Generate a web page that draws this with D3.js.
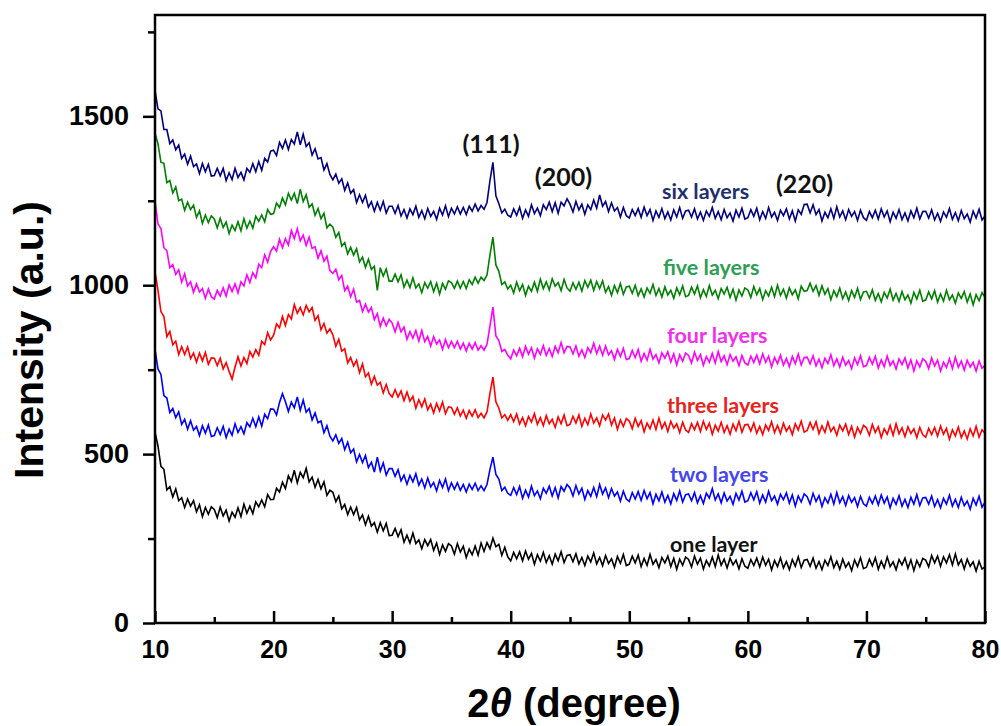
<!DOCTYPE html>
<html>
<head>
<meta charset="utf-8">
<script src="https://cdn.jsdelivr.net/npm/d3@7"></script>
<style>
  body { margin: 0; background: #fff; }
</style>
</head>
<body>
<div id="container"></div>
<script>
// 2theta grid, one reading every 0.25 degree from 10 to 80
let twoTheta = d3.range(281).map(i => 10 + i * 0.25);

// intensities (a.u.), one row = 5 degrees
let sixLayers = [
  1577,1522,1516,1461,1461,1419,1430,1401,1415,1375,1388,1358,1382,1351,1359,1331,1360,1336,1358,1323,
  1325,1346,1324,1346,1310,1333,1313,1346,1319,1334,1312,1346,1334,1360,1336,1366,1340,1376,1365,1397,
  1400,1384,1423,1405,1430,1402,1431,1418,1454,1416,1447,1411,1422,1385,1404,1374,1378,1341,1360,1328,
  1312,1329,1302,1315,1281,1303,1272,1283,1245,1268,1245,1266,1231,1247,1219,1245,1222,1248,1214,1234,
  1234,1213,1236,1205,1224,1199,1226,1209,1234,1201,1221,1197,1227,1204,1219,1195,1228,1208,1235,1203,
  1228,1211,1232,1211,1230,1209,1234,1219,1240,1220,1236,1225,1245,1310,1364,1265,1241,1214,1225,1207,
  1202,1226,1207,1231,1198,1223,1204,1238,1212,1228,1206,1238,1224,1246,1218,1244,1213,1246,1235,1256,
  1240,1217,1248,1223,1240,1210,1238,1224,1252,1228,1267,1234,1248,1218,1244,1220,1230,1202,1230,1206,
  1199,1224,1206,1227,1201,1231,1206,1224,1192,1220,1201,1227,1197,1217,1193,1223,1202,1230,1198,1220,
  1222,1202,1226,1196,1216,1192,1220,1204,1230,1198,1218,1194,1224,1200,1214,1190,1222,1202,1228,1196,
  1200,1224,1204,1228,1194,1218,1198,1230,1202,1216,1192,1222,1206,1226,1196,1220,1190,1223,1210,1239,
  1240,1214,1238,1209,1224,1190,1216,1200,1226,1198,1232,1202,1220,1194,1224,1204,1218,1192,1222,1200,
  1192,1218,1200,1222,1196,1226,1202,1220,1188,1216,1198,1224,1194,1214,1190,1220,1200,1228,1196,1218,
  1219,1199,1223,1193,1213,1189,1217,1201,1227,1195,1215,1191,1221,1197,1211,1187,1219,1199,1225,1193,
  1205
];
let fiveLayers = [
  1450,1419,1364,1361,1304,1310,1273,1291,1250,1255,1222,1246,1224,1237,1201,1220,1183,1208,1185,1205,
  1196,1170,1198,1171,1187,1153,1178,1162,1188,1161,1197,1169,1190,1169,1204,1189,1208,1188,1224,1210,
  1212,1243,1230,1258,1238,1272,1252,1272,1242,1284,1248,1268,1231,1241,1207,1227,1197,1213,1170,1181,
  1172,1142,1156,1116,1126,1093,1112,1089,1108,1069,1083,1053,1077,1047,1056,985,1052,1027,1048,1012,
  1012,1033,1010,1031,994,1015,993,1022,992,1004,978,1008,991,1011,981,1006,974,1005,988,1013,
  1008,991,1012,991,1011,990,1016,1002,1024,1006,1024,1014,1030,1090,1142,1060,1041,1002,1010,989,
  1000,977,1009,984,1002,970,997,982,1009,982,1018,990,1010,986,1019,997,1008,984,1017,992,
  982,1007,988,1009,983,1014,994,1015,985,1011,990,1013,979,996,970,999,978,1005,973,995,
  997,976,1000,969,989,965,992,976,1002,970,990,965,995,971,985,961,992,972,998,966,
  970,994,974,998,963,987,967,999,971,985,960,990,974,994,964,988,956,986,968,992,
  986,964,996,972,990,958,984,968,994,966,1000,970,988,962,992,972,986,960,997,982,
  984,1006,982,999,970,998,973,990,957,984,966,991,960,980,955,984,964,991,958,980,
  982,962,986,955,975,951,979,962,988,956,976,952,981,957,971,947,979,959,985,953,
  956,980,960,984,950,974,953,985,957,971,947,977,961,981,950,974,942,972,954,978,
  964
];
let fourLayers = [
  1250,1181,1168,1111,1102,1052,1061,1032,1046,1009,1034,998,1010,979,1004,980,990,961,989,966,
  959,985,968,992,968,1001,981,1004,977,1010,998,1031,1008,1037,1022,1062,1052,1090,1068,1100,
  1114,1101,1136,1111,1138,1119,1162,1138,1167,1131,1148,1118,1142,1109,1114,1080,1102,1071,1086,1043,
  1035,1047,1016,1029,984,997,966,988,950,955,922,944,921,934,898,916,878,903,880,899,
  888,862,890,862,876,840,863,843,866,835,866,833,848,820,848,826,838,810,839,815,
  834,815,834,811,828,805,828,811,830,808,821,808,825,880,935,850,836,804,810,793,
  782,808,791,813,788,819,796,815,784,812,795,821,792,812,789,819,800,830,800,819,
  818,797,820,790,809,786,815,800,828,798,820,793,820,794,806,780,810,789,813,780,
  783,807,786,810,775,798,778,810,781,795,770,800,784,803,773,797,764,794,775,799,
  792,770,802,777,795,763,789,772,798,770,804,774,791,765,795,775,788,762,792,770,
  764,790,771,793,767,797,772,790,758,786,768,793,763,783,759,789,768,796,764,786,
  787,767,791,761,781,756,784,768,794,762,782,758,787,763,777,753,785,765,791,759,
  762,786,766,789,755,779,759,790,762,776,752,782,765,785,755,779,746,776,758,782,
  775,753,785,761,778,746,772,756,782,753,787,757,775,749,778,758,772,746,776,754,
  763
];
let threeLayers = [
  1040,985,922,907,848,863,824,834,795,818,795,817,783,799,772,799,776,801,766,785,
  784,762,784,752,771,745,722,758,788,761,786,768,804,787,809,793,834,824,860,838,
  852,885,874,907,881,913,900,943,917,934,912,940,921,934,896,910,868,887,858,871,
  853,819,840,805,812,770,786,761,778,741,767,729,740,707,730,704,712,681,706,679,
  669,691,669,687,658,684,657,671,636,661,640,663,631,648,622,650,628,654,620,640,
  638,618,637,613,630,606,629,612,631,608,621,607,625,680,728,655,636,607,617,600,
  617,596,619,589,608,584,611,595,620,588,608,584,614,590,603,579,610,590,616,584,
  588,612,592,616,582,606,587,619,592,607,584,616,601,619,586,607,573,601,582,605,
  598,575,606,582,599,566,592,575,601,573,606,576,594,567,597,577,590,564,594,571,
  564,590,572,594,567,597,573,591,559,586,568,594,564,584,559,589,569,597,565,587,
  588,568,592,562,582,558,586,570,596,564,585,561,591,568,582,558,590,571,597,565,
  570,594,573,596,561,584,564,595,567,580,556,586,569,589,558,582,550,579,561,585,
  578,556,588,564,581,549,575,559,585,556,590,560,578,552,581,561,575,549,579,557,
  550,576,558,579,553,583,559,576,544,572,554,580,549,569,545,575,554,582,550,572,
  562
];
let twoLayers = [
  810,752,736,673,666,623,635,608,625,588,603,574,599,571,582,555,584,562,586,552,
  555,578,558,582,549,574,556,590,564,581,560,593,581,606,581,610,583,618,605,634,
  633,616,653,679,655,626,654,637,669,630,660,624,635,601,622,593,598,563,584,553,
  539,557,532,546,513,535,504,515,477,499,475,496,460,476,447,491,450,474,438,457,
  457,434,454,421,438,411,437,418,442,408,426,400,429,403,416,391,422,401,426,392,
  415,396,415,393,410,388,411,395,414,392,406,392,410,455,491,440,426,392,402,384,
  378,401,380,404,369,393,373,405,377,391,368,399,384,405,376,401,370,404,390,410,
  400,376,407,382,399,366,392,375,401,374,410,382,400,371,398,376,388,361,390,367,
  360,386,367,389,363,392,368,386,353,381,362,388,358,378,353,383,363,391,358,380,
  382,362,386,356,377,354,384,370,398,364,382,356,385,361,375,351,384,364,390,358,
  362,386,365,389,355,379,358,390,362,376,352,381,365,385,355,379,346,376,358,382,
  374,352,384,360,377,345,371,355,381,352,386,356,374,348,377,357,371,345,375,353,
  346,372,354,376,350,379,355,373,341,369,351,377,346,366,342,372,352,380,348,370,
  372,352,376,345,365,341,369,352,378,346,366,342,372,347,361,337,369,349,375,343,
  358
];
let oneLayer = [
  565,524,464,455,394,404,373,397,362,371,342,367,346,362,329,350,315,342,322,344,
  336,312,343,317,334,302,328,313,341,315,352,325,346,324,359,344,364,344,380,365,
  366,399,388,417,398,436,419,452,415,446,430,458,418,432,402,425,397,418,378,393,
  387,359,376,338,351,321,343,321,342,305,320,291,316,287,297,269,297,273,295,259,
  260,280,256,276,239,260,237,266,235,246,220,247,229,247,215,237,203,231,212,235,
  228,204,235,210,227,194,219,202,228,201,237,212,238,220,251,226,233,200,224,196,
  184,209,190,211,184,213,189,206,174,202,183,209,179,199,174,204,184,211,179,200,
  202,182,205,175,194,170,198,181,207,175,194,170,200,176,190,165,197,177,203,170,
  174,198,178,201,167,191,171,203,174,188,164,194,178,198,167,191,159,189,171,195,
  188,166,198,174,192,160,185,169,195,167,201,171,189,163,192,172,186,160,190,168,
  162,188,170,192,166,195,171,189,157,185,167,193,163,182,158,188,168,196,164,186,
  188,168,192,162,182,158,186,170,196,164,183,159,189,165,179,155,187,167,193,161,
  165,189,169,193,159,183,163,195,167,181,158,188,172,192,162,187,155,185,167,191,
  186,166,200,178,198,168,196,178,202,172,204,172,188,160,189,168,181,154,183,160,
  166
];

let seriesNames = ["one layer", "two layers", "three layers", "four layers", "five layers", "six layers"];
let seriesValues = [oneLayer, twoLayers, threeLayers, fourLayers, fiveLayers, sixLayers];
let peakNames = ["(111)", "(200)", "(220)"];

let xTicks = [10, 20, 30, 40, 50, 60, 70, 80];
let xMinor = [15, 25, 35, 45, 55, 65, 75];
let yTicks = [0, 500, 1000, 1500];
let yMinor = [250, 750, 1250, 1750];

// styling / placement, kept apart from the data
let lineColors = ["#000000", "#0000ff", "#ff0000", "#ff00ff", "#008000", "#000080"];
let labelColors = ["#111111", "#4646f0", "#e8231b", "#f030f0", "#2e9e55", "#1f2f6e"];
let labelPos = [[53.43, 210], [53.43, 417], [53.18, 622], [53.18, 829], [52.84, 1030], [52.76, 1255]];
let peakPos = [[38.34, 1391], [44.45, 1294], [64.78, 1273]];

let w = 1001;
let h = 726;
let mLeft = 155, mRight = 985, mTop = 15, mBottom = 623;

let viz = d3.select("#container")
  .append("svg")
    .attr("width", w)
    .attr("height", h)
    .style("display", "block")
;

let x = d3.scaleLinear().domain([10, 80]).range([mLeft, mRight]);
let y = d3.scaleLinear().domain([0, 1800]).range([mBottom, mTop]);

// curves
let lineMaker = d3.line()
  .x(function(d){ return x(d[0]); })
  .y(function(d){ return y(d[1]); })
;

seriesValues.forEach(function(vals, i){
  let pts = twoTheta.map(function(t, j){ return [t, vals[j]]; });
  viz.append("path")
    .datum(pts)
    .attr("d", lineMaker)
    .attr("fill", "none")
    .attr("stroke", lineColors[i])
    .attr("stroke-width", 1.6)
  ;
});

// axes
let xAxis = viz.append("g")
  .attr("transform", "translate(0," + mBottom + ")")
  .call(d3.axisBottom(x).tickValues(xTicks).tickSizeInner(-12).tickSizeOuter(0).tickPadding(17));
let xAxisMinor = viz.append("g")
  .attr("transform", "translate(0," + mBottom + ")")
  .call(d3.axisBottom(x).tickValues(xMinor).tickSizeInner(-6).tickSizeOuter(0).tickFormat(""));
let yAxis = viz.append("g")
  .attr("transform", "translate(" + mLeft + ",0)")
  .call(d3.axisLeft(y).tickValues(yTicks).tickFormat(d3.format("d")).tickSizeInner(12).tickSizeOuter(0).tickPadding(14));
let yAxisMinor = viz.append("g")
  .attr("transform", "translate(" + mLeft + ",0)")
  .call(d3.axisLeft(y).tickValues(yMinor).tickSizeInner(7).tickSizeOuter(0).tickFormat(""));

viz.selectAll(".domain").remove();
viz.selectAll(".tick line").attr("stroke", "#000").attr("stroke-width", 2.5);
xAxis.selectAll("text")
  .style("font-family", "Liberation Sans, Arial, sans-serif")
  .style("font-weight", "bold")
  .style("font-size", "25px")
  .attr("fill", "#000");
yAxis.selectAll("text")
  .style("font-family", "Liberation Sans, Arial, sans-serif")
  .style("font-weight", "bold")
  .style("font-size", "27px")
  .attr("fill", "#000");

// frame, all four sides
viz.append("path")
  .attr("d", "M" + mLeft + "," + mTop + "H" + mRight + "V" + mBottom + "H" + mLeft + "Z")
  .attr("fill", "none")
  .attr("stroke", "#000")
  .attr("stroke-width", 2.5)
;

// axis titles
let xTitle = viz.append("text")
  .attr("x", 574)
  .attr("y", 717)
  .attr("text-anchor", "middle")
  .style("font-family", "Liberation Sans, Arial, sans-serif")
  .style("font-weight", "bold")
  .style("font-size", "40px")
;
xTitle.append("tspan").text("2");
xTitle.append("tspan").style("font-style", "italic").text("\u03b8");
xTitle.append("tspan").text(" (degree)");

viz.append("text")
  .attr("transform", "translate(43,340) rotate(-90)")
  .attr("text-anchor", "middle")
  .style("font-family", "Liberation Sans, Arial, sans-serif")
  .style("font-weight", "bold")
  .style("font-size", "41px")
  .text("Intensity (a.u.)")
;

// series labels
viz.selectAll(".serieslabel")
  .data(seriesNames)
  .enter()
  .append("text")
    .attr("class", "serieslabel")
    .attr("x", function(d, i){ return x(labelPos[i][0]); })
    .attr("y", function(d, i){ return y(labelPos[i][1]); })
    .attr("fill", function(d, i){ return labelColors[i]; })
    .style("font-family", "Lato, 'Open Sans', sans-serif")
    .style("font-weight", "bold")
    .style("font-size", "21.5px")
    .text(function(d){ return d; })
;

// peak labels
viz.selectAll(".peaklabel")
  .data(peakNames)
  .enter()
  .append("text")
    .attr("class", "peaklabel")
    .attr("x", function(d, i){ return x(peakPos[i][0]); })
    .attr("y", function(d, i){ return y(peakPos[i][1]); })
    .attr("text-anchor", "middle")
    .attr("fill", "#111")
    .style("font-family", "Lato, 'Open Sans', sans-serif")
    .style("font-weight", "bold")
    .style("font-size", "25px")
    .text(function(d){ return d; })
;
</script>
</body>
</html>
